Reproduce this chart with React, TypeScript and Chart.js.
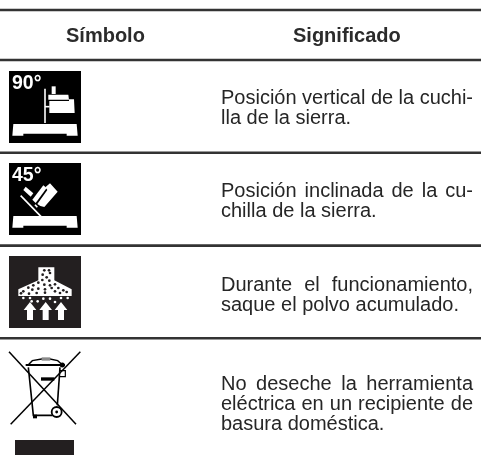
import React, { useEffect, useRef } from "react";
import { Chart, registerables } from "chart.js";

Chart.register(...registerables);

const headerLabels = ["Símbolo", "Significado"];
const meaningRows = [
  [{ text: "Posición vertical de la cuchi-", justify: true }, { text: "lla de la sierra.", justify: false }],
  [{ text: "Posición inclinada de la cu-", justify: true }, { text: "chilla de la sierra.", justify: false }],
  [{ text: "Durante el funcionamiento,", justify: true }, { text: "saque el polvo acumulado.", justify: false }],
  [
    { text: "No deseche la herramienta", justify: true },
    { text: "eléctrica en un recipiente de", justify: true },
    { text: "basura doméstica.", justify: false },
  ],
];
const rowBaselines = [[103.7, 123.5], [196.7, 216.5], [290.5, 310.5], [390, 410, 430]];
const ruleRows = [10, 60, 152.8, 245.6, 338.3];
const angleLabels = ["90°", "45°"];

type P = [number, number];

const iconPlugin = {
  id: "tableContent",
  afterDatasetsDraw(chart: any) {
    const { ctx, scales } = chart;
    const X = (v: number) => scales.x.getPixelForValue(v);
    const Y = (v: number) => scales.y.getPixelForValue(v);
    const font = "'Liberation Sans', Arial, sans-serif";

    const poly = (ox: number, oy: number, pts: P[], fill: string) => {
      ctx.beginPath();
      pts.forEach(([a, b], i) => {
        const px = X(ox + a / 3);
        const py = Y(oy + b / 3);
        if (i === 0) ctx.moveTo(px, py);
        else ctx.lineTo(px, py);
      });
      ctx.closePath();
      ctx.fillStyle = fill;
      ctx.fill();
    };
    const line = (ox: number, oy: number, pts: P[], color: string, w: number) => {
      ctx.beginPath();
      pts.forEach(([a, b], i) => {
        const px = X(ox + a / 3);
        const py = Y(oy + b / 3);
        if (i === 0) ctx.moveTo(px, py);
        else ctx.lineTo(px, py);
      });
      ctx.strokeStyle = color;
      ctx.lineWidth = w;
      ctx.stroke();
    };
    const dot = (ox: number, oy: number, a: number, b: number, r: number, fill: string) => {
      ctx.beginPath();
      ctx.arc(X(ox + a / 3), Y(oy + b / 3), r, 0, Math.PI * 2);
      ctx.fillStyle = fill;
      ctx.fill();
    };
    const box = (x0: number, y0: number, x1: number, y1: number, fill: string) => {
      ctx.fillStyle = fill;
      ctx.fillRect(X(x0), Y(y0), X(x1) - X(x0), Y(y1) - Y(y0));
    };

    ctx.save();

    // headers
    ctx.textBaseline = "alphabetic";
    ctx.textAlign = "left";
    ctx.fillStyle = "#2b2b2b";
    ctx.font = `bold 20px ${font}`;
    ctx.fillText(headerLabels[0], X(66), Y(41.5));
    ctx.fillText(headerLabels[1], X(293), Y(41.5));

    // meaning text, justified to the right edge of the column
    ctx.font = `20px ${font}`;
    ctx.fillStyle = "#262626";
    meaningRows.forEach((rows, r) => {
      rows.forEach((row, i) => {
        (ctx as any).wordSpacing = "0px";
        let spacing = 0;
        if (row.justify) {
          const natural = ctx.measureText(row.text).width;
          const gaps = row.text.split(" ").length - 1;
          spacing = (X(473) - X(221) - natural) / gaps;
        }
        (ctx as any).wordSpacing = `${spacing}px`;
        ctx.fillText(row.text, X(221), Y(rowBaselines[r][i]));
      });
    });
    (ctx as any).wordSpacing = "0px";

    const W = "#ffffff";
    const K = "#000000";
    const D = "#231f20";

    // 90 degree icon
    box(9, 71, 81, 143, K);
    let ox = 5;
    let oy = 68;
    ctx.fillStyle = W;
    ctx.font = `bold 19.5px ${font}`;
    ctx.fillText(angleLabels[0], X(12), Y(88.7));
    line(ox, oy, [[120, 62], [120, 165]], W, 1.6);
    line(ox, oy, [[120, 116], [134, 116]], W, 1.6);
    poly(ox, oy, [[140, 55], [152, 55], [152, 78], [140, 78]], W);
    poly(ox, oy, [[130, 80], [190, 80], [192, 95], [130, 95]], W);
    poly(ox, oy, [[133, 99], [192, 99], [192, 94], [207, 94], [209, 135], [133, 135]], W);
    const basePts: P[] = [[25, 168], [215, 168], [218, 203], [185, 203], [185, 197], [55, 197], [55, 203], [22, 203]];
    poly(ox, oy, basePts, W);

    // 45 degree icon
    box(9, 163, 81, 235, K);
    ox = 5;
    oy = 160;
    ctx.fillStyle = W;
    ctx.font = `bold 19.5px ${font}`;
    ctx.fillText(angleLabels[1], X(12), Y(180.7));
    line(ox, oy, [[47, 107], [120, 182]], W, 1.6);
    poly(ox, oy, [[62, 80], [55, 90], [77, 110], [85, 100]], W);
    poly(ox, oy, [[82, 119], [115, 76], [125, 84], [92, 129]], W);
    poly(ox, oy, [[135, 70], [158, 95], [118, 141], [106, 138], [97, 132], [127, 90], [121, 82]], W);
    line(ox, oy, [[90, 134], [97, 142]], W, 1.6);
    poly(ox, oy, basePts, W);

    // dust extraction icon
    box(9, 256, 81, 328, D);
    ox = 5;
    oy = 252;
    poly(ox, oy, [[100, 46], [148, 46], [148, 85], [200, 112], [200, 132], [40, 132], [40, 112], [100, 85]], W);
    const hoodDots: P[] = [
      [118, 55], [132, 55], [113, 68], [135, 63], [125, 76], [112, 84], [133, 86], [100, 92],
      [118, 98], [135, 100], [150, 97], [85, 100], [70, 107], [100, 110], [120, 112], [140, 108],
      [160, 108], [175, 115], [55, 118], [82, 113], [95, 123], [120, 122], [150, 118], [165, 123],
      [185, 120], [48, 124], [72, 125],
    ];
    hoodDots.forEach(([a, b]) => dot(ox, oy, a, b, 1.35, D));
    const airDots: P[] = [
      [55, 138], [75, 138], [98, 148], [115, 140], [135, 140], [150, 150], [168, 138], [188, 138], [80, 148],
    ];
    airDots.forEach(([a, b]) => dot(ox, oy, a, b, 1.3, W));
    [75, 122, 168].forEach((c) => {
      poly(ox, oy, [[c, 150], [c + 19, 174], [c + 9, 174], [c + 9, 204], [c - 9, 204], [c - 9, 174], [c - 19, 174]], W);
    });

    // crossed-out bin icon
    ox = 5;
    oy = 348;
    line(ox, oy, [[12, 11], [213, 229]], K, 1.5);
    line(ox, oy, [[226, 11], [17, 229]], K, 1.5);
    line(ox, oy, [[70, 58], [85, 202], [142, 202]], K, 1.6);
    line(ox, oy, [[165, 58], [157, 172]], K, 1.6);
    line(ox, oy, [[62, 51], [180, 51]], K, 2);
    line(ox, oy, [[70, 50], [82, 38], [110, 33], [135, 33], [158, 38], [172, 50]], K, 1.4);
    poly(ox, oy, [[110, 28], [136, 28], [136, 38], [110, 38]], "#8a8a8a");
    poly(ox, oy, [[108, 88], [148, 88], [148, 98], [108, 98]], K);
    poly(ox, oy, [[84, 200], [96, 200], [96, 211], [84, 211]], K);
    line(ox, oy, [[163, 68], [181, 68], [181, 86], [163, 86]], K, 1.2);
    dot(ox, oy, 172, 51, 2.5, K);
    ctx.beginPath();
    ctx.arc(X(ox + 155 / 3), Y(oy + 192 / 3), 5, 0, Math.PI * 2);
    ctx.fillStyle = W;
    ctx.fill();
    ctx.strokeStyle = K;
    ctx.lineWidth = 1.8;
    ctx.stroke();
    dot(ox, oy, 155, 192, 1.4, K);
    box(15, 440, 74, 455, D);

    ctx.restore();
  },
};

export default function App() {
  const ref = useRef<HTMLCanvasElement | null>(null);
  useEffect(() => {
    document.body.style.margin = "0";
    const chart = new Chart(ref.current as HTMLCanvasElement, {
      type: "line",
      data: {
        datasets: ruleRows.map((row) => ({
          label: String(row),
          data: [
            { x: 0, y: row },
            { x: 481, y: row },
          ],
          borderColor: "#333333",
          borderWidth: 2.6,
          pointRadius: 0,
          tension: 0,
        })),
      },
      options: {
        animation: false,
        responsive: false,
        layout: { padding: 0 },
        plugins: { legend: { display: false }, tooltip: { enabled: false } },
        scales: {
          x: { type: "linear", min: 0, max: 483, display: false },
          y: { type: "linear", min: 0, max: 465, reverse: true, display: false },
        },
      },
      plugins: [iconPlugin],
    } as any);
    return () => chart.destroy();
  }, []);
  return <canvas ref={ref} width={483} height={465} style={{ display: "block" }} />;
}
